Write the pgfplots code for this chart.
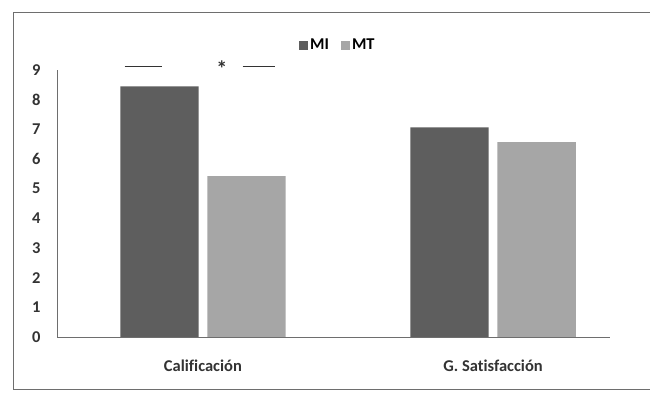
\documentclass[border=0pt]{standalone}
\usepackage{pgfplots}
\pgfplotsset{compat=1.18}
\usepackage{fontspec}
\setmainfont{Carlito}[Ligatures=NoCommon]
\definecolor{cMI}{HTML}{5E5E5E}
\definecolor{cMT}{HTML}{A6A6A6}
\definecolor{frame}{HTML}{6E6E6E}
\begin{document}
\begin{tikzpicture}[x=1pt,y=1pt]
\path[use as bounding box] (0,0) rectangle (650,401);
\fill[white] (0,0) rectangle (650,401);
\draw[frame, line width=0.9pt] (13,12) -- (13,389) -- (660,389);
\draw[frame, line width=0.9pt] (13,12) -- (660,12);
\begin{axis}[
  at={(57pt,64pt)}, anchor=south west,
  scale only axis, width=553pt, height=267pt,
  xmin=-0.503, xmax=1.403, ymin=0, ymax=9,
  axis x line*=bottom, axis y line*=left,
  axis line style={draw=frame, line width=0.8pt},
  x axis line style={-}, y axis line style={-},
  xtick={0,1}, xticklabels={Calificación, G. Satisfacción},
  ytick={0,1,...,9},
  /pgf/number format/assume math mode=true,
  major tick length=0,
  tick label style={font=\fontsize{16.5}{18}\selectfont\bfseries, text=black!80},
  xticklabel style={yshift=-19pt},
  yticklabel style={xshift=-13pt},
  ybar, bar width=0.27,
  clip=false,
  legend style={at={(0.508,1.094)}, anchor=center, draw=none, fill=none,
    legend columns=2, font=\fontsize{16.5}{18}\selectfont\bfseries,
    /tikz/every even column/.append style={column sep=10pt}},
  legend image code/.code={\fill[#1] (0pt,-5pt) rectangle (9pt,4pt);},
]
\addplot[fill=cMI, draw=none, bar shift=-0.15] coordinates {(0,8.45) (1,7.07)};
\addplot[fill=cMT, draw=none, bar shift=0.15] coordinates {(0,5.42) (1,6.57)};
\legend{MI, MT}
\draw[black!80, line width=0.9pt] (axis cs:-0.27,9.13) -- (axis cs:-0.14,9.13);
\node[font=\fontsize{22}{24}\selectfont\bfseries, text=black!80] at (axis cs:0.065,9.05) {*};
\draw[black!80, line width=0.9pt] (axis cs:0.137,9.13) -- (axis cs:0.247,9.13);
\end{axis}
\end{tikzpicture}
\end{document}
